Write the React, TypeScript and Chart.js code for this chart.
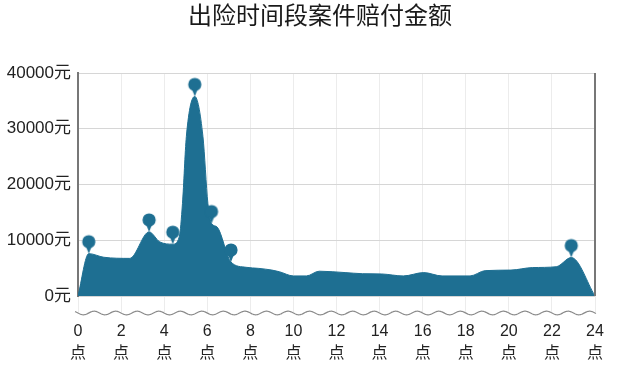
import React, { useEffect, useRef } from 'react';
import { Chart, registerables } from 'chart.js';

Chart.register(...registerables);

const TITLE = '出险时间段案件赔付金额';

// area series: hour of day -> paid amount (元)
const hours = [0, 0.5, 1.2, 2.4, 3.3, 3.8, 4.4, 4.7, 4.85, 5.03, 5.42, 5.8, 6.03, 6.2, 6.45, 7.1, 7.8, 8.4, 9.0, 9.35, 10.0, 10.6, 11.2, 12.4, 13.2, 14.1, 15.1, 16.05, 16.9, 18.2, 18.9, 20.1, 21.1, 22.2, 22.9, 24];
const amounts = [0, 7600, 6950, 6750, 11500, 9700, 9300, 10600, 16600, 28600, 35800, 28600, 16600, 13000, 12400, 6100, 5150, 4950, 4650, 4350, 3600, 3600, 4450, 4200, 4000, 3950, 3600, 4200, 3600, 3600, 4550, 4650, 5100, 5250, 6900, 0];

// pin markers
const pinHours = [0.5, 3.3, 4.4, 5.42, 6.2, 7.1, 22.9];
const pinAmounts = [7600, 11500, 9300, 35800, 13000, 6100, 6900];

// axis ticks
const xMin = 0;
const xMax = 24;
const xStep = 2;
const xUnit = '点';
const yMin = 0;
const yMax = 40000;
const yStep = 10000;
const yUnit = '元';

const TEAL = '#1e6f92';
const FONT = "'Liberation Sans', 'Noto Sans CJK SC', sans-serif";

function makePin(): HTMLCanvasElement {
  const c = document.createElement('canvas');
  c.width = 18;
  c.height = 40;
  const ctx = c.getContext('2d')!;
  ctx.fillStyle = TEAL;
  ctx.beginPath();
  ctx.moveTo(9 - 3.6, 11);
  ctx.lineTo(9 + 3.6, 11);
  ctx.lineTo(9, 20);
  ctx.closePath();
  ctx.fill();
  ctx.beginPath();
  ctx.arc(9, 8, 6.6, 0, Math.PI * 2);
  ctx.fill();
  return c;
}

const decorPlugin = {
  id: 'decor',
  afterDraw(chart: any) {
    const { ctx, chartArea } = chart;
    const { left, right, top, bottom } = chartArea;
    ctx.save();
    // right frame line
    ctx.strokeStyle = '#777';
    ctx.lineWidth = 2;
    ctx.beginPath();
    ctx.moveTo(right, top);
    ctx.lineTo(right, bottom);
    ctx.stroke();
    // wavy line below plot
    const period = (right - left) / 24;
    const wy = bottom + 17;
    ctx.strokeStyle = '#8a8a8a';
    ctx.lineWidth = 1.2;
    ctx.beginPath();
    for (let x = left - 3; x <= right + 1; x += 0.5) {
      const y = wy + 1.8 * Math.sin(((x - left) / period) * Math.PI * 2);
      if (x === left - 3) ctx.moveTo(x, y);
      else ctx.lineTo(x, y);
    }
    ctx.stroke();
    ctx.restore();
  },
};

export default function App() {
  const ref = useRef<HTMLCanvasElement>(null);

  useEffect(() => {
    if (!ref.current) return;
    const pin = makePin();
    const chart = new Chart(ref.current, {
      type: 'line',
      data: {
        datasets: [
          {
            data: pinHours.map((h, i) => ({ x: h, y: pinAmounts[i] })),
            showLine: false,
            pointStyle: pin as any,
            pointRadius: 10,
            order: 0,
          },
          {
            data: hours.map((h, i) => ({ x: h, y: amounts[i] })),
            fill: 'origin',
            backgroundColor: TEAL,
            borderColor: TEAL,
            borderWidth: 1,
            pointRadius: 0,
            cubicInterpolationMode: 'monotone',
            order: 1,
          },
        ],
      },
      options: {
        animation: false,
        responsive: false,
        events: [],
        layout: { padding: 0 },
        plugins: {
          legend: { display: false },
          tooltip: { enabled: false },
          title: {
            display: true,
            text: TITLE,
            color: '#1a1a1a',
            font: { family: "'Noto Sans CJK SC', sans-serif", size: 24, weight: 'normal' },
            padding: { top: 0, bottom: 44.2 },
          },
        },
        scales: {
          x: {
            type: 'linear',
            min: xMin,
            max: xMax,
            afterFit: (s: any) => {
              s.height = 74;
            },
            ticks: {
              stepSize: xStep,
              color: '#222',
              padding: 9,
              maxRotation: 0,
              autoSkip: false,
              font: { family: FONT, size: 16, lineHeight: 1.375 },
              callback: (v: any) => [String(v), xUnit],
            },
            grid: { color: '#ececec', tickColor: '#ececec', tickLength: 16, drawTicks: true },
            border: { display: false },
          },
          y: {
            min: yMin,
            max: yMax,
            afterFit: (s: any) => {
              s.width = 78;
            },
            ticks: {
              stepSize: yStep,
              color: '#222',
              padding: 7,
              font: { family: FONT, size: 17 },
              callback: (v: any) => `${v}${yUnit}`,
            },
            grid: { color: '#d6d6d6', drawTicks: false },
            border: { color: '#777', width: 2 },
          },
          yRight: {
            position: 'right',
            display: true,
            min: yMin,
            max: yMax,
            afterFit: (s: any) => {
              s.width = 45;
            },
            ticks: { display: false },
            grid: { display: false },
            border: { display: false },
          },
        },
      },
      plugins: [decorPlugin],
    });
    return () => chart.destroy();
  }, []);

  return (
    <div style={{ position: 'fixed', left: 0, top: 0, width: 640, height: 370, background: '#fff' }}>
      <canvas ref={ref} width={640} height={370} />
    </div>
  );
}
